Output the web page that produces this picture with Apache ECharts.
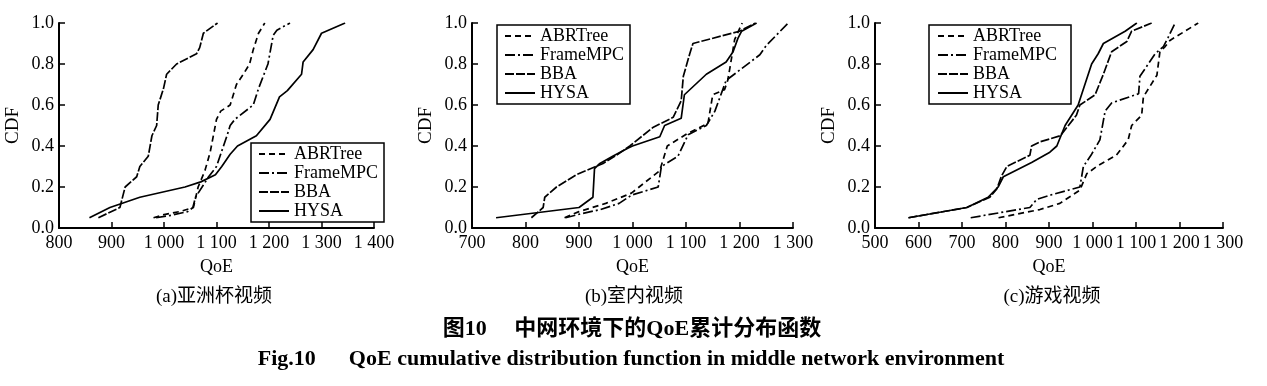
<!DOCTYPE html>
<html>
<head>
<meta charset="utf-8">
<script src="https://cdn.jsdelivr.net/npm/echarts@6/dist/echarts.min.js"></script>
<style>html,body{margin:0;padding:0;background:#fff;}#c{width:1267px;height:386px;}</style>
</head>
<body>
<div id="c"></div>
<script>
// ---- data ----
const seriesNames = ['ABRTree', 'FrameMPC', 'BBA', 'HYSA'];
const subCaptions = ['(a)亚洲杯视频', '(b)室内视频', '(c)游戏视频'];
const xTicksA = [800, 900, 1000, 1100, 1200, 1300, 1400];
const xTicksB = [700, 800, 900, 1000, 1100, 1200, 1300];
const xTicksC = [500, 600, 700, 800, 900, 1000, 1100, 1200, 1300];
const yTicks = [0, 0.2, 0.4, 0.6, 0.8, 1.0];

// (a) Asian Cup video
const abrA = [[980,0.05],[1000,0.065],[1030,0.08],[1056,0.10],[1065,0.20],[1078,0.28],[1088,0.37],[1100,0.53],[1108,0.57],[1126,0.60],[1138,0.70],[1151,0.75],[1163,0.80],[1170,0.87],[1180,0.95],[1192,1.0]];
const mpcA = [[985,0.05],[1010,0.06],[1045,0.08],[1055,0.10],[1060,0.15],[1075,0.21],[1085,0.25],[1100,0.30],[1120,0.45],[1126,0.50],[1135,0.53],[1170,0.60],[1180,0.68],[1198,0.80],[1208,0.94],[1215,0.965],[1240,1.0]];
const bbaA = [[875,0.05],[916,0.10],[926,0.20],[948,0.25],[954,0.30],[970,0.35],[977,0.45],[986,0.50],[989,0.60],[999,0.68],[1005,0.75],[1024,0.80],[1062,0.85],[1068,0.88],[1075,0.95],[1102,1.0]];
const hysaA = [[858,0.05],[897,0.10],[954,0.15],[1040,0.20],[1070,0.225],[1098,0.26],[1110,0.30],[1126,0.36],[1140,0.40],[1176,0.45],[1202,0.53],[1220,0.64],[1235,0.67],[1262,0.75],[1265,0.81],[1284,0.87],[1300,0.95],[1345,1.0]];

// (b) indoor video
const abrB = [[873,0.05],[900,0.08],[950,0.12],[998,0.17],[1051,0.28],[1065,0.40],[1102,0.46],[1141,0.51],[1150,0.65],[1172,0.675],[1178,0.72],[1182,0.78],[1191,0.92],[1205,1.0]];
const mpcB = [[875,0.05],[905,0.07],[940,0.09],[975,0.12],[998,0.16],[1048,0.20],[1054,0.30],[1085,0.35],[1104,0.455],[1138,0.50],[1154,0.57],[1175,0.72],[1238,0.845],[1250,0.89],[1291,1.0]];
const bbaB = [[811,0.05],[833,0.10],[836,0.15],[858,0.20],[895,0.26],[945,0.315],[970,0.355],[995,0.40],[1038,0.49],[1076,0.54],[1091,0.62],[1095,0.74],[1107,0.85],[1113,0.90],[1200,0.96],[1230,1.0]];
const hysaB = [[745,0.05],[900,0.10],[926,0.15],[929,0.29],[939,0.315],[963,0.35],[992,0.39],[1000,0.40],[1051,0.445],[1060,0.50],[1091,0.535],[1097,0.65],[1138,0.75],[1175,0.81],[1188,0.86],[1197,0.925],[1204,0.96],[1232,1.0]];

// (c) game video
const abrC = [[784,0.05],[879,0.09],[925,0.12],[971,0.185],[987,0.265],[1013,0.305],[1055,0.355],[1082,0.43],[1090,0.50],[1113,0.55],[1117,0.64],[1148,0.745],[1155,0.86],[1167,0.885],[1178,0.915],[1243,1.0]];
const mpcC = [[720,0.05],[856,0.10],[872,0.14],[902,0.16],[971,0.20],[979,0.30],[998,0.36],[1017,0.43],[1029,0.57],[1044,0.61],[1106,0.655],[1109,0.74],[1125,0.79],[1144,0.85],[1163,0.885],[1174,0.93],[1190,1.0]];
const bbaC = [[577,0.05],[711,0.10],[764,0.15],[780,0.19],[790,0.25],[803,0.30],[856,0.355],[860,0.40],[879,0.42],[926,0.45],[963,0.55],[971,0.60],[1006,0.65],[1025,0.75],[1044,0.86],[1079,0.91],[1090,0.96],[1136,1.0]];
const hysaC = [[577,0.05],[711,0.10],[760,0.15],[783,0.20],[795,0.25],[860,0.32],[902,0.37],[918,0.40],[937,0.50],[967,0.60],[998,0.80],[1013,0.85],[1025,0.90],[1075,0.96],[1102,1.0]];

const panels = [
  { ticks: xTicksA, data: [abrA, mpcA, bbaA, hysaA] },
  { ticks: xTicksB, data: [abrB, mpcB, bbaB, hysaB] },
  { ticks: xTicksC, data: [abrC, mpcC, bbaC, hysaC] }
];

// ---- layout / style ----
const SERIF = "'Liberation Serif', 'Times New Roman', serif";
const MIXED = "'Liberation Serif', 'Noto Sans CJK SC', serif";
const grids = [
  { left: 59, top: 23, width: 315, height: 205 },
  { left: 472, top: 23, width: 321, height: 205 },
  { left: 875, top: 23, width: 348, height: 205 }
];
const legendPos = [
  { left: 251, top: 143, padding: [2, 6, 2, 7] },
  { left: 497, top: 25, padding: [2, 6, 2, 7] },
  { left: 929, top: 25, padding: [2, 14, 2, 8] }
];
const captionX = [214, 634, 1052];
const dashStyles = [[6, 4], [10, 3, 2, 3], [9, 2], 'solid'];

function xFmt(v) {
  if (v >= 1000) return Math.floor(v / 1000) + ' ' + String(v % 1000).padStart(3, '0');
  return String(v);
}

const xAxes = [], yAxes = [], series = [], legends = [], graphics = [];
panels.forEach((p, i) => {
  const t = p.ticks;
  xAxes.push({
    type: 'value', gridIndex: i, min: t[0], max: t[t.length - 1], interval: t[1] - t[0],
    axisLine: { lineStyle: { color: '#000', width: 2 } },
    axisTick: { inside: true, length: 6, lineStyle: { color: '#000', width: 1.5 } },
    splitLine: { show: false },
    axisLabel: { color: '#000', fontFamily: SERIF, fontSize: 18, margin: 6, formatter: xFmt },
    name: 'QoE', nameLocation: 'middle', nameGap: 30,
    nameTextStyle: { color: '#000', fontFamily: SERIF, fontSize: 18 }
  });
  yAxes.push({
    type: 'value', gridIndex: i, min: yTicks[0], max: yTicks[yTicks.length - 1], interval: 0.2,
    axisLine: { show: true, lineStyle: { color: '#000', width: 2 } },
    axisTick: { show: true, inside: true, length: 6, lineStyle: { color: '#000', width: 1.5 } },
    splitLine: { show: false },
    axisLabel: { color: '#000', fontFamily: SERIF, fontSize: 18, margin: 5, formatter: v => v.toFixed(1) },
    name: 'CDF', nameLocation: 'middle', nameGap: 36, nameRotate: 90,
    nameTextStyle: { color: '#000', fontFamily: SERIF, fontSize: 19 }
  });
  p.data.forEach((d, k) => {
    series.push({
      type: 'line', name: seriesNames[k], xAxisIndex: i, yAxisIndex: i, data: d,
      symbol: 'none', showSymbol: false, silent: true,
      lineStyle: { color: '#000', width: 1.7, type: dashStyles[k] },
      itemStyle: { color: '#000', opacity: 0 }
    });
  });
  legends.push(Object.assign({
    orient: 'vertical', data: seriesNames, selectedMode: false,
    itemWidth: 30, itemHeight: 12, itemGap: 1,
    itemStyle: { opacity: 0, color: 'transparent', borderWidth: 0 },
    borderColor: '#000', borderWidth: 1.5, backgroundColor: '#fff',
    textStyle: { color: '#000', fontFamily: SERIF, fontSize: 18, lineHeight: 17 }
  }, legendPos[i]));
  graphics.push({
    type: 'text', x: captionX[i], y: 297, silent: true,
    style: { text: subCaptions[i], fill: '#000', font: '19px ' + MIXED, textAlign: 'center', textVerticalAlign: 'middle' }
  });
});

graphics.push({
  type: 'text', silent: true, x: 632, y: 329,
  style: { text: '图10　 中网环境下的QoE累计分布函数', fill: '#000', font: 'bold 22px ' + MIXED, textAlign: 'center', textVerticalAlign: 'middle' }
});
graphics.push({
  type: 'text', silent: true, x: 631, y: 359,
  style: { text: 'Fig.10      QoE cumulative distribution function in middle network environment', fill: '#000', font: 'bold 22px ' + SERIF, textAlign: 'center', textVerticalAlign: 'middle' }
});

const chart = echarts.init(document.getElementById('c'), null, { renderer: 'canvas' });
chart.setOption({
  animation: false,
  backgroundColor: '#fff',
  grid: grids,
  xAxis: xAxes,
  yAxis: yAxes,
  legend: legends,
  series: series,
  graphic: graphics
});
</script>
</body>
</html>
